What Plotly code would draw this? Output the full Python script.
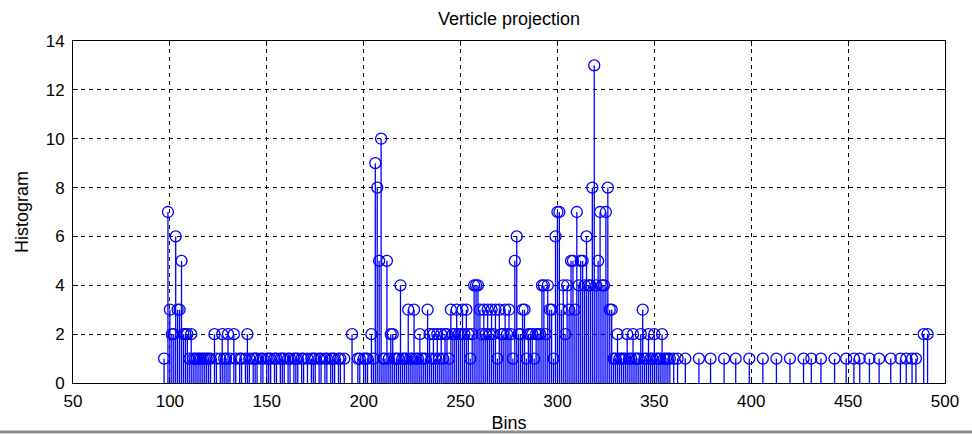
import plotly.graph_objects as go

# Histogram of the vertical projection: bin index -> count
bins = [
    97, 99, 100, 101, 102, 103, 104, 105, 106, 107, 108, 109, 110, 111, 112, 113,
    114, 115, 116, 117, 118, 119, 120, 121, 123, 124, 126, 127, 128, 129, 130, 131,
    133, 134, 136, 137, 139, 140, 141, 143, 144, 145, 147, 148, 150, 151, 152, 154,
    155, 157, 158, 159, 161, 162, 164, 165, 166, 168, 169, 171, 173, 174, 175, 177,
    178, 180, 181, 183, 184, 185, 187, 188, 190, 194, 197, 198, 200, 201, 202, 204,
    205, 206, 207, 208, 209, 210, 211, 212, 213, 214, 215, 216, 217, 218, 219, 220,
    221, 222, 223, 224, 225, 226, 227, 228, 229, 230, 231, 232, 233, 234, 235, 236,
    237, 238, 239, 240, 241, 242, 243, 244, 245, 246, 247, 248, 249, 250, 251, 252,
    253, 254, 255, 256, 257, 258, 259, 260, 261, 262, 263, 264, 265, 266, 267, 268,
    269, 270, 271, 272, 273, 274, 275, 276, 277, 278, 279, 280, 281, 282, 283, 284,
    285, 286, 287, 288, 289, 290, 291, 292, 293, 294, 295, 296, 297, 298, 299, 300,
    301, 302, 303, 304, 305, 306, 307, 308, 309, 310, 311, 312, 313, 314, 315, 316,
    317, 318, 319, 320, 321, 322, 323, 324, 325, 326, 327, 328, 329, 330, 331, 332,
    333, 334, 335, 336, 337, 338, 339, 340, 341, 342, 343, 344, 345, 346, 347, 348,
    349, 350, 351, 352, 353, 354, 355, 356, 357, 358, 360, 362, 366, 373, 379, 386,
    392, 399, 406, 413, 420, 427, 431, 436, 443, 449, 453, 456, 461, 466, 472, 477,
    480, 483, 485, 489, 491,
]
counts = [
    1, 7, 3, 2, 2, 6, 3, 3, 5, 2, 2, 2, 1, 2, 1, 1,
    1, 1, 1, 1, 1, 1, 1, 1, 2, 1, 1, 2, 1, 1, 2, 1,
    2, 1, 1, 1, 1, 2, 1, 1, 1, 1, 1, 1, 1, 1, 1, 1,
    1, 1, 1, 1, 1, 1, 1, 1, 1, 1, 1, 1, 1, 1, 1, 1,
    1, 1, 1, 1, 1, 1, 1, 1, 1, 2, 1, 1, 1, 1, 1, 2,
    1, 9, 8, 5, 10, 1, 1, 5, 1, 2, 2, 1, 1, 1, 4, 1,
    1, 1, 3, 1, 1, 3, 1, 1, 2, 1, 1, 1, 3, 2, 1, 2,
    1, 2, 1, 2, 1, 2, 2, 1, 3, 2, 2, 3, 2, 2, 3, 2,
    3, 2, 1, 2, 4, 4, 4, 3, 2, 3, 2, 3, 2, 3, 2, 3,
    1, 3, 2, 2, 3, 2, 3, 2, 1, 5, 6, 2, 2, 3, 3, 1,
    2, 2, 2, 1, 2, 2, 2, 4, 4, 2, 4, 3, 3, 1, 6, 7,
    7, 3, 4, 2, 4, 3, 5, 5, 3, 7, 4, 5, 5, 4, 6, 4,
    4, 8, 13, 4, 5, 7, 4, 4, 7, 8, 3, 3, 1, 1, 2, 1,
    1, 1, 1, 2, 1, 1, 2, 1, 1, 1, 2, 3, 1, 1, 2, 1,
    1, 2, 1, 1, 1, 2, 1, 1, 1, 1, 1, 1, 1, 1, 1, 1,
    1, 1, 1, 1, 1, 1, 1, 1, 1, 1, 1, 1, 1, 1, 1, 1,
    1, 1, 1, 2, 2,
]

x_ticks = [50, 100, 150, 200, 250, 300, 350, 400, 450, 500]
y_ticks = [0, 2, 4, 6, 8, 10, 12, 14]

STEM_BLUE = "#0000FF"
FONT = "Liberation Sans Narrow, Liberation Sans, Arial, sans-serif"

# Stems: vertical segments from the baseline up to each count
stem_x, stem_y = [], []
for b, c in zip(bins, counts):
    stem_x += [b, b, None]
    stem_y += [0, c, None]

fig = go.Figure()
fig.add_trace(go.Scatter(
    x=stem_x, y=stem_y, mode="lines",
    line=dict(color=STEM_BLUE, width=1.3),
    hoverinfo="skip", showlegend=False,
))
fig.add_trace(go.Scatter(
    x=bins, y=counts, mode="markers",
    marker=dict(symbol="circle-open", size=11, color=STEM_BLUE,
                line=dict(width=1.3, color=STEM_BLUE)),
    showlegend=False,
))

axis_common = dict(
    showline=True, linecolor="black", linewidth=1, mirror="allticks",
    ticks="inside", ticklen=5, tickcolor="black",
    showgrid=True, gridcolor="black", gridwidth=1, griddash="4px,4px",
    zeroline=False, automargin=False,
    tickfont=dict(family=FONT, size=17, color="black"),
)

fig.update_layout(
    width=972, height=434,
    margin=dict(l=73, r=27, t=41, b=51),
    paper_bgcolor="white", plot_bgcolor="white",
    title=dict(text="Verticle projection", x=509 / 972, xanchor="center",
               y=1 - 19 / 434, yanchor="middle",
               font=dict(family=FONT, size=18, color="black")),
    xaxis=dict(range=[50, 500], tickvals=x_ticks, ticklabelstandoff=3,
               title=dict(text="Bins", standoff=5,
                          font=dict(family=FONT, size=18, color="black")),
               **axis_common),
    yaxis=dict(range=[0, 14], tickvals=y_ticks, ticklabelstandoff=4,
               title=dict(text="Histogram", standoff=12,
                          font=dict(family=FONT, size=18, color="black")),
               **axis_common),
)

# Gray rule running across the bottom of the page
fig.add_shape(type="line", xref="paper", yref="paper",
              x0=-73 / 872, x1=(972 - 73) / 872,
              y0=(383 - 432) / 342, y1=(383 - 432) / 342,
              line=dict(color="#8c8c8c", width=3))

fig.write_html("out.html")
